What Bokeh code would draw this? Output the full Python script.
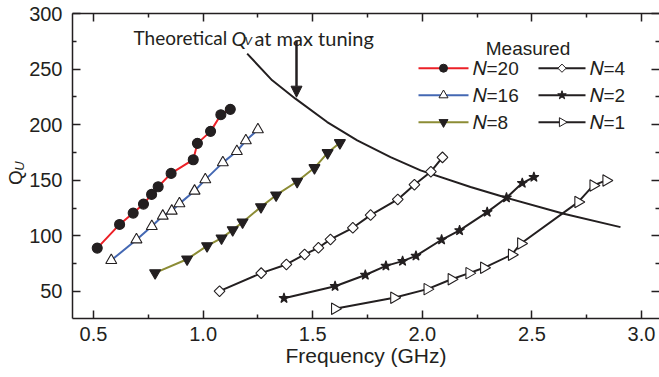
import math
from bokeh.plotting import figure
from bokeh.models import (Range1d, LinearAxis, Label, Arrow, NormalHead,
                          FixedTicker, PrintfTickFormatter, CustomJSTickFormatter)
from bokeh.embed import file_html
from bokeh.resources import INLINE

# ---------------- data ----------------
F_N20 = [0.517, 0.619, 0.681, 0.728, 0.765, 0.795, 0.854, 0.955, 0.974, 1.034, 1.081, 1.124]
Q_N20 = [89.0, 110.3, 120.5, 128.6, 137.3, 144.2, 156.2, 168.5, 183.2, 194.0, 209.0, 213.8]

F_N16 = [0.581, 0.696, 0.766, 0.816, 0.857, 0.892, 0.961, 1.010, 1.090, 1.154, 1.195, 1.250]
Q_N16 = [78.0, 96.6, 108.6, 117.9, 122.4, 129.0, 140.4, 150.6, 165.9, 176.1, 185.7, 195.6]

F_N8 = [0.781, 0.927, 1.018, 1.084, 1.135, 1.180, 1.264, 1.333, 1.429, 1.508, 1.568, 1.624]
Q_N8 = [66.7, 79.0, 91.0, 98.0, 105.4, 112.3, 126.1, 136.6, 148.9, 161.2, 174.7, 183.7]

F_N4 = [1.075, 1.265, 1.380, 1.463, 1.526, 1.581, 1.683, 1.764, 1.888, 1.964, 2.039, 2.092]
Q_N4 = [50.3, 66.5, 74.3, 83.3, 89.3, 96.8, 107.3, 118.7, 132.8, 146.0, 157.7, 170.6]

F_N2 = [1.369, 1.602, 1.740, 1.834, 1.910, 1.971, 2.088, 2.170, 2.296, 2.384, 2.456, 2.509]
Q_N2 = [43.9, 54.7, 64.8, 73.0, 77.3, 82.0, 96.5, 104.9, 121.4, 134.3, 147.5, 152.9]

F_N1 = [1.601, 1.871, 2.023, 2.133, 2.214, 2.281, 2.408, 2.450, 2.711, 2.780, 2.839]
Q_N1 = [34.4, 44.3, 52.1, 61.0, 66.5, 71.3, 83.1, 93.2, 130.4, 145.4, 149.9]

F_THEORY = [1.201, 1.315, 1.421, 1.566, 1.703, 1.855, 1.992, 2.220, 2.384, 2.645, 2.904]
Q_THEORY = [263.9, 239.9, 223.4, 202.4, 185.9, 170.9, 158.9, 143.9, 134.3, 119.9, 107.9]

LABELS = ["\U0001D441=20", "\U0001D441=16", "\U0001D441=8",
          "\U0001D441=4", "\U0001D441=2", "\U0001D441=1"]

X_TICKS = [0.5, 1.0, 1.5, 2.0, 2.5, 3.0]
X_MINOR = [0.75, 1.25, 1.75, 2.25, 2.75]
Y_TICKS = [50, 100, 150, 200, 250, 300]
Y_MINOR = [75, 125, 175, 225, 275]

X_LABEL = "Frequency (GHz)"
Y_LABEL_MAIN = "Q"
Y_LABEL_SUB = "U"
LEGEND_TITLE = "Measured"
# ----------------------------------------------------------------

W, H = 659, 377
FL, FR, FT, FB = 72, 659, 13, 318          # frame edges in pixels
X_START, X_END = 0.4042, 3.082
Y_START, Y_END = 25.7, 300.0
INK = "#231f20"
FONT = "Liberation Sans"


def px_x(px):
    return X_START + (px - FL) * (X_END - X_START) / (FR - FL)


def px_y(py):
    return Y_START + (FB - py) * (Y_END - Y_START) / (FB - FT)


p = figure(width=W, height=H, output_backend="svg", toolbar_location=None,
           x_range=Range1d(X_START, X_END), y_range=Range1d(Y_START, Y_END),
           min_border_left=FL, min_border_right=W - FR, min_border_top=FT,
           min_border_bottom=H - FB, x_axis_label=X_LABEL)
p.outline_line_color = None
p.xgrid.visible = False
p.ygrid.visible = False
p.background_fill_color = "white"
p.border_fill_color = "white"

xt = FixedTicker(ticks=X_TICKS, minor_ticks=X_MINOR)
yt = FixedTicker(ticks=Y_TICKS, minor_ticks=Y_MINOR)


def style_axis(ax):
    ax.axis_line_width = 1.5
    ax.axis_line_color = INK
    ax.major_tick_in = 8
    ax.major_tick_out = 0
    ax.minor_tick_in = 4
    ax.minor_tick_out = 0
    ax.major_tick_line_width = 1.5
    ax.minor_tick_line_width = 1.5
    ax.major_tick_line_color = INK
    ax.minor_tick_line_color = INK
    ax.major_label_text_font = FONT
    ax.major_label_text_font_size = "20px"
    ax.major_label_text_color = INK


xa = p.xaxis[0]
xa.ticker = xt
xa.formatter = PrintfTickFormatter(format="%.1f")
style_axis(xa)
xa.major_label_standoff = 8
xa.axis_label_text_font = FONT
xa.axis_label_text_font_size = "21px"
xa.axis_label_text_font_style = "normal"
xa.axis_label_text_color = INK
xa.axis_label_standoff = 0

# main left axis carries the subscript "U" as its axis label
ya = p.yaxis[0]
ya.ticker = yt
ya.formatter = PrintfTickFormatter(format="%d")
style_axis(ya)
ya.major_label_standoff = 10
ya.axis_label = Y_LABEL_SUB
ya.axis_label_text_font = FONT
ya.axis_label_text_font_style = "italic"
ya.axis_label_text_font_size = "13px"
ya.axis_label_text_color = INK
ya.axis_label_standoff = -1

# outer left axis: only a rotated "Q" placed slightly below the centre
q_pos = round(px_y(177), 1)
qa = LinearAxis(ticker=FixedTicker(ticks=[q_pos], minor_ticks=[]),
                formatter=CustomJSTickFormatter(code="return '%s'" % Y_LABEL_MAIN))
qa.axis_line_color = None
qa.major_tick_line_color = None
qa.minor_tick_line_color = None
qa.major_tick_in = 0
qa.major_tick_out = 0
qa.minor_tick_in = 0
qa.minor_tick_out = 0
qa.major_label_orientation = "vertical"
qa.major_label_standoff = -17
qa.major_label_text_font = FONT
qa.major_label_text_font_size = "19px"
qa.major_label_text_color = INK
p.add_layout(qa, "left")

blank = CustomJSTickFormatter(code="return ''")
top = LinearAxis(ticker=xt, formatter=blank)
style_axis(top)
top.major_label_text_font_size = "1px"
top.major_label_standoff = 0
p.add_layout(top, "above")

right = LinearAxis(ticker=yt, formatter=blank)
style_axis(right)
right.major_label_text_font_size = "1px"
right.major_label_standoff = 0
right.axis_line_color = None
p.add_layout(right, "right")

# theoretical curve
p.line(F_THEORY, Q_THEORY, line_color=INK, line_width=2)

# (freqs, Q, line colour, marker, size, legend size, fill, angle)
series = [
    (F_N20, Q_N20, "#ec2027", "circle", 10, 8, INK, 0.0),
    (F_N16, Q_N16, "#4468b3", "triangle", 11, 9, "white", 0.0),
    (F_N8, Q_N8, "#8c8c35", "inverted_triangle", 11, 9, INK, 0.0),
    (F_N4, Q_N4, INK, "square", 7.6, 5.8, "white", math.pi / 4),
    (F_N2, Q_N2, INK, "star", 10.5, 9, INK, 0.0),
    (F_N1, Q_N1, INK, "triangle", 11.5, 9, "white", -math.pi / 2),
]

for (f, q, col, mk, sz, lsz, fill, ang) in series:
    p.line(f, q, line_color=col, line_width=2)
    p.scatter(f, q, marker=mk, size=sz, fill_color=fill, line_color=INK,
              line_width=1.1, angle=ang)

# ---- legend (two columns, drawn as keys + labels) ----
LEG_ROWS_PX = [67.7, 94.7, 121.7]
LEG_COLS_PX = [(418, 468), (538, 585)]
for i, ((f, q, col, mk, sz, lsz, fill, ang), lab) in enumerate(zip(series, LABELS)):
    c, r = divmod(i, 3)
    x0, x1 = LEG_COLS_PX[c]
    yy = px_y(LEG_ROWS_PX[r])
    p.line([px_x(x0), px_x(x1)], [yy, yy], line_color=col, line_width=2)
    p.scatter([px_x((x0 + x1) / 2)], [yy], marker=mk, size=lsz, fill_color=fill,
              line_color=INK, line_width=1.0, angle=ang)
    p.add_layout(Label(x=px_x(x1 + 4), y=yy, text=lab, text_align="left",
                       text_baseline="middle", text_font=FONT,
                       text_font_size="19px", text_color=INK))

p.add_layout(Label(x=px_x(527.5), y=px_y(48), text=LEGEND_TITLE, text_align="center",
                   text_baseline="alphabetic", text_font=FONT,
                   text_font_size="19px", text_color=INK))

# ---- annotation: Theoretical Q_V at max tuning ----
ANN_FONT = "Lato"
p.add_layout(Label(x=px_x(133), y=px_y(37.3), text="Theoretical", text_align="left",
                   text_baseline="alphabetic", text_font=ANN_FONT,
                   text_font_size="19px", text_color=INK))
p.add_layout(Label(x=px_x(231), y=px_y(37.3), text="Q", text_align="left",
                   text_baseline="alphabetic", text_font=ANN_FONT,
                   text_font_style="italic", text_font_size="20px", text_color=INK))
p.add_layout(Label(x=px_x(244), y=px_y(40), text="V", text_align="left",
                   text_baseline="alphabetic", text_font=ANN_FONT,
                   text_font_style="italic", text_font_size="12px", text_color=INK))
p.add_layout(Label(x=px_x(254), y=px_y(37.3), text="at max tuning", text_align="left",
                   text_baseline="alphabetic", text_font=ANN_FONT,
                   text_font_size="20px", text_color=INK))

p.add_layout(Arrow(x_start=px_x(296), y_start=px_y(40), x_end=px_x(296), y_end=px_y(96.7),
                   line_width=2.5, line_color=INK,
                   end=NormalHead(size=11, fill_color=INK, line_color=INK)))

open("out.html", "w").write(file_html(p, INLINE))
